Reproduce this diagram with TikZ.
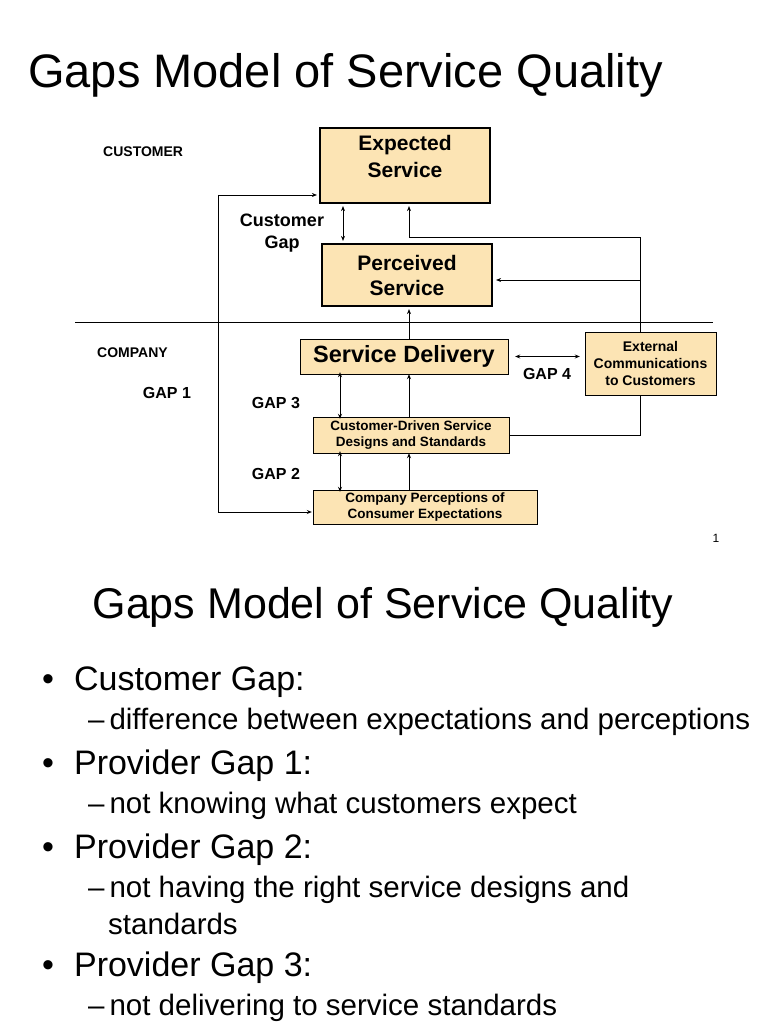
\documentclass[tikz,border=0pt]{standalone}
\usepackage{fontspec}
\setmainfont{Liberation Sans}
\usetikzlibrary{arrows.meta}
\definecolor{tan}{HTML}{FCE4B4}
\begin{document}
\begin{tikzpicture}[x=1pt,y=-1pt,
  box/.style={draw,fill=tan,inner sep=0,font=\bfseries,align=center},
  thick box/.style={box,line width=2.2pt},
  lab/.style={font=\bfseries\fontsize{16}{19}\selectfont,align=center,inner sep=0},
  arr/.style={-{Stealth[length=5pt,width=4pt]},line width=0.9pt},
  darr/.style={{Stealth[length=5pt,width=4pt]}-{Stealth[length=5pt,width=4pt]},line width=0.9pt},
  ln/.style={line width=0.9pt},
  txt/.style={anchor=west,inner sep=0}]
\useasboundingbox (0,0) rectangle (768,1024);
\node[txt,font=\fontsize{47}{52}\selectfont] (t1) at (28,75) {Gaps Model of Service Quality};
\node[txt,font=\bfseries\fontsize{14}{16}\selectfont] (cust) at (103,152) {CUSTOMER};
\node[txt,font=\bfseries\fontsize{14}{16}\selectfont] (comp) at (97,353) {COMPANY};
\node[thick box,minimum width=170,minimum height=75] (es) at (405,165.5) {};
\node[inner sep=0,align=center,font=\bfseries\fontsize{21}{27}\selectfont] (est) at (405,156) {Expected\\Service};
\node[thick box,minimum width=170,minimum height=62,font=\bfseries\fontsize{21}{25}\selectfont] (ps) at (407,275) {Perceived\\Service};
\node[lab,font=\bfseries\fontsize{18}{22}\selectfont] (cg) at (282,233) {Customer\\Gap};
\draw[ln] (75,322) -- (713,322);
\node[box,minimum width=208,minimum height=35,font=\bfseries\fontsize{23.5}{28}\selectfont] (sd) at (404,356.5) {Service Delivery};
\node[box,minimum width=131,minimum height=63,font=\bfseries\fontsize{14}{17}\selectfont] (ec) at (650.5,363.5) {External\\Communications\\to Customers};
\node[box,minimum width=196,minimum height=36,font=\bfseries\fontsize{13.5}{15.5}\selectfont] (cd) at (411,435) {Customer-Driven Service\\Designs and Standards};
\node[box,minimum width=224,minimum height=34,font=\bfseries\fontsize{13.5}{15.5}\selectfont] (cp) at (425,507) {Company Perceptions of\\Consumer Expectations};
\node[lab] (g1) at (167,393) {GAP 1};
\node[lab] (g3) at (276,403) {GAP 3};
\node[lab] (g2) at (276,474) {GAP 2};
\node[lab] (g4) at (547,374) {GAP 4};
% arrows
\draw[darr] ([xshift=-62pt,yshift=-2pt]es.south) -- ([xshift=-64pt,yshift=2pt]ps.north);
\coordinate (l1) at (218,195);
\coordinate (l2) at (218,512);
\draw[ln] (l1) -- (l2);
\draw[arr] (l1) -- ([xshift=-2pt]es.west |- l1);
\draw[arr] (l2) -- ([xshift=-1pt]cp.west |- l2);
\coordinate (r1) at (640,237);
\coordinate (r2) at (640,435);
\coordinate (m1) at (409,237);
\draw[ln] (r1) -- (m1);
\draw[arr] (m1) -- ([yshift=-2pt]m1 |- es.south);
\draw[ln] (r1) -- (ec.north -| r1);
\draw[ln] (ec.south -| r2) -- (r2) -- (cd.east |- r2);
\coordinate (r3) at (640,280);
\draw[arr] (r3) -- ([xshift=3pt]ps.east |- r3);
\draw[arr] (sd.north -| m1) -- ([yshift=-2pt]m1 |- ps.south);
\draw[darr] ([xshift=7pt]sd.east) -- ([xshift=-5pt]ec.west |- sd.east);
\draw[darr] ([yshift=2pt]340,0 |- sd.south) -- ([yshift=-2pt]340,0 |- cd.north);
\draw[arr] (cd.north -| m1) -- (m1 |- sd.south);
\draw[darr] ([yshift=2pt]340,0 |- cd.south) -- ([yshift=-2pt]340,0 |- cp.north);
\draw[arr] (cp.north -| m1) -- (m1 |- cd.south);
\node[inner sep=0,font=\fontsize{12}{14}\selectfont] (pg) at (716,538) {1};
% text slide
\node[inner sep=0,font=\fontsize{43}{48}\selectfont] (t2) at (383,607) {Gaps Model of Service Quality};
\node[txt,font=\fontsize{34}{38}\selectfont] (b1) at (42,682) {•\hspace{20pt}Customer Gap:};
\node[txt,font=\fontsize{29.5}{34}\selectfont] (s1) at (88,722) {–\,difference between expectations and perceptions};
\node[txt,font=\fontsize{34}{38}\selectfont] (b2) at (42,766) {•\hspace{20pt}Provider Gap 1:};
\node[txt,font=\fontsize{29.5}{34}\selectfont] (s2) at (88,806) {–\,not knowing what customers expect};
\node[txt,font=\fontsize{34}{38}\selectfont] (b3) at (42,850) {•\hspace{20pt}Provider Gap 2:};
\node[txt,font=\fontsize{29.5}{34}\selectfont] (s3) at (88,890) {–\,not having the right service designs and};
\node[txt,font=\fontsize{29.5}{34}\selectfont] (s3b) at (108,924) {standards};
\node[txt,font=\fontsize{34}{38}\selectfont] (b4) at (42,968) {•\hspace{20pt}Provider Gap 3:};
\node[txt,font=\fontsize{29.5}{34}\selectfont] (s4) at (88,1008) {–\,not delivering to service standards};
\end{tikzpicture}
\end{document}
